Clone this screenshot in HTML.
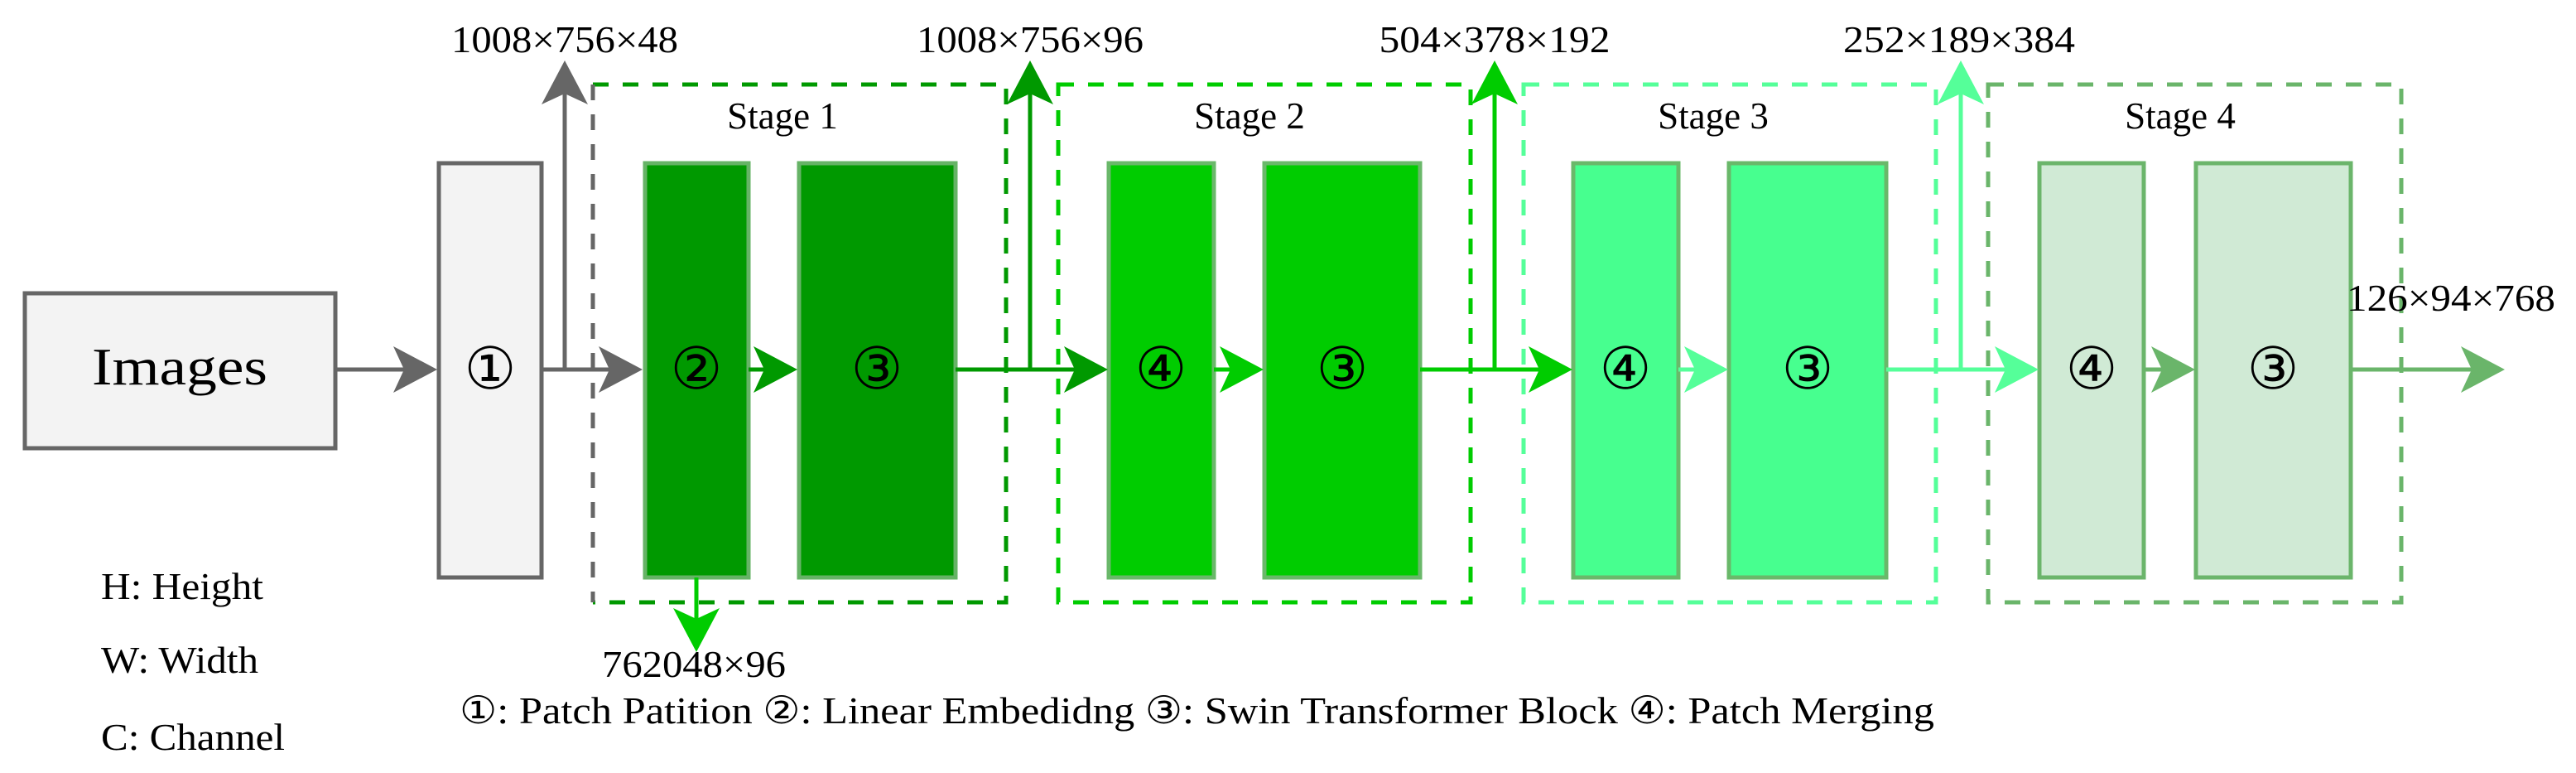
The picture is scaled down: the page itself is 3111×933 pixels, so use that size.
<!DOCTYPE html>
<html><head><meta charset="utf-8"><style>
html,body{margin:0;padding:0;background:#fff;}
svg{display:block;}
text{font-family:"Liberation Serif",serif;fill:#000;}
.c{font-family:"DejaVu Sans",sans-serif;}
</style></head><body>
<svg width="3111" height="933" viewBox="0 0 3111 933" xmlns="http://www.w3.org/2000/svg">
<defs>
<g id="ah"><polygon points="0,0 -53,-28 -40,0 -53,28"/></g>
</defs>

<!-- Images -->
<rect x="30" y="354" width="375" height="187" fill="#f3f3f3" stroke="#666" stroke-width="5"/>
<text x="217" y="464" font-size="64" text-anchor="middle" textLength="212" lengthAdjust="spacingAndGlyphs">Images</text>

<!-- box 1 -->
<rect x="530" y="197" width="124" height="500" fill="#f3f3f3" stroke="#666" stroke-width="5"/>
<text class="c" x="592" y="469" font-size="70" text-anchor="middle">①</text>

<!-- gray arrows -->
<line x1="405" y1="446" x2="490" y2="446" stroke="#666" stroke-width="5"/>
<use href="#ah" x="0" y="0" transform="translate(528,446)" fill="#666"/>
<line x1="654" y1="446" x2="740" y2="446" stroke="#666" stroke-width="5"/>
<use href="#ah" transform="translate(776,446)" fill="#666"/>
<line x1="682" y1="446" x2="682" y2="110" stroke="#666" stroke-width="5"/>
<use href="#ah" transform="translate(682,73) rotate(-90)" fill="#666"/>
<text x="682" y="63" font-size="46" text-anchor="middle" textLength="274" lengthAdjust="spacingAndGlyphs">1008×756×48</text>

<!-- Stage boxes -->
<g fill="none" stroke-width="5" stroke-dasharray="19 17">
<path d="M716,102 L1215,102 L1215,727 L716,727" stroke="#009900"/>
<line x1="716" y1="102" x2="716" y2="727" stroke="#666"/>
<rect x="1278" y="102" width="498" height="625" stroke="#00cc00"/>
<rect x="1840" y="102" width="498" height="625" stroke="#55ff99"/>
<rect x="2401" y="102" width="499" height="625" stroke="#6ab56a"/>
</g>
<text x="945" y="155" font-size="45" text-anchor="middle">Stage 1</text>
<text x="1509" y="155" font-size="45" text-anchor="middle">Stage 2</text>
<text x="2069" y="155" font-size="45" text-anchor="middle">Stage 3</text>
<text x="2633" y="155" font-size="45" text-anchor="middle">Stage 4</text>

<!-- blocks -->
<g stroke-width="5">
<rect x="779" y="197" width="125" height="500" fill="#009900" stroke="#66b366"/>
<rect x="965" y="197" width="189" height="500" fill="#009900" stroke="#66b366"/>
<rect x="1339" y="197" width="127" height="500" fill="#00cc00" stroke="#6ab86a"/>
<rect x="1527" y="197" width="188" height="500" fill="#00cc00" stroke="#6ab86a"/>
<rect x="1900" y="197" width="127" height="500" fill="#47ff8f" stroke="#6ab86a"/>
<rect x="2088" y="197" width="190" height="500" fill="#47ff8f" stroke="#6ab86a"/>
<rect x="2463" y="197" width="126" height="500" fill="#d0ead5" stroke="#6bb56b"/>
<rect x="2652" y="197" width="187" height="500" fill="#d0ead5" stroke="#6bb56b"/>
</g>
<g class="c" font-size="70" text-anchor="middle">
<text class="c" x="841" y="469">②</text>
<text class="c" x="1059" y="469">③</text>
<text class="c" x="1402" y="469">④</text>
<text class="c" x="1621" y="469">③</text>
<text class="c" x="1963" y="469">④</text>
<text class="c" x="2183" y="469">③</text>
<text class="c" x="2526" y="469">④</text>
<text class="c" x="2745" y="469">③</text>
</g>

<!-- stage1 arrows -->
<line x1="904" y1="446" x2="930" y2="446" stroke="#009900" stroke-width="5"/>
<use href="#ah" transform="translate(963,446)" fill="#009900"/>
<line x1="841" y1="697" x2="841" y2="760" stroke="#00cc00" stroke-width="5"/>
<use href="#ah" transform="translate(841,787) rotate(90)" fill="#00cc00"/>
<text x="838" y="817" font-size="46" text-anchor="middle" textLength="222" lengthAdjust="spacingAndGlyphs">762048×96</text>

<line x1="1154" y1="446" x2="1300" y2="446" stroke="#009900" stroke-width="5"/>
<use href="#ah" transform="translate(1338,446)" fill="#009900"/>
<line x1="1244" y1="446" x2="1244" y2="110" stroke="#009900" stroke-width="5"/>
<use href="#ah" transform="translate(1244,73) rotate(-90)" fill="#009900"/>
<text x="1244" y="63" font-size="46" text-anchor="middle" textLength="274" lengthAdjust="spacingAndGlyphs">1008×756×96</text>

<!-- stage2 arrows -->
<line x1="1466" y1="446" x2="1490" y2="446" stroke="#00cc00" stroke-width="5"/>
<use href="#ah" transform="translate(1526,446)" fill="#00cc00"/>
<line x1="1715" y1="446" x2="1862" y2="446" stroke="#00cc00" stroke-width="5"/>
<use href="#ah" transform="translate(1899,446)" fill="#00cc00"/>
<line x1="1805" y1="446" x2="1805" y2="110" stroke="#00cc00" stroke-width="5"/>
<use href="#ah" transform="translate(1805,73) rotate(-90)" fill="#00cc00"/>
<text x="1805" y="63" font-size="46" text-anchor="middle" textLength="279" lengthAdjust="spacingAndGlyphs">504×378×192</text>

<!-- stage3 arrows -->
<line x1="2027" y1="446" x2="2050" y2="446" stroke="#55ff99" stroke-width="5"/>
<use href="#ah" transform="translate(2087,446)" fill="#55ff99"/>
<line x1="2278" y1="446" x2="2425" y2="446" stroke="#55ff99" stroke-width="5"/>
<use href="#ah" transform="translate(2462,446)" fill="#55ff99"/>
<line x1="2368" y1="446" x2="2368" y2="110" stroke="#55ff99" stroke-width="5"/>
<use href="#ah" transform="translate(2368,73) rotate(-90)" fill="#55ff99"/>
<text x="2366" y="63" font-size="46" text-anchor="middle" textLength="280" lengthAdjust="spacingAndGlyphs">252×189×384</text>

<!-- stage4 arrows -->
<line x1="2589" y1="446" x2="2615" y2="446" stroke="#6ab56a" stroke-width="5"/>
<use href="#ah" transform="translate(2651,446)" fill="#6ab56a"/>
<line x1="2839" y1="446" x2="2990" y2="446" stroke="#6ab56a" stroke-width="5"/>
<use href="#ah" transform="translate(3025,446)" fill="#6ab56a"/>
<text x="2960" y="375" font-size="46" text-anchor="middle" textLength="252" lengthAdjust="spacingAndGlyphs">126×94×768</text>

<!-- legends -->
<text x="122" y="723" font-size="46" textLength="196" lengthAdjust="spacingAndGlyphs">H: Height</text>
<text x="122" y="812" font-size="46" textLength="190" lengthAdjust="spacingAndGlyphs">W: Width</text>
<text x="122" y="905" font-size="46" textLength="222" lengthAdjust="spacingAndGlyphs">C: Channel</text>
<text x="555" y="873" font-size="46" textLength="1781" lengthAdjust="spacingAndGlyphs">①: Patch Patition ②: Linear Embedidng ③: Swin Transformer Block ④: Patch Merging</text>
</svg>
</body></html>
